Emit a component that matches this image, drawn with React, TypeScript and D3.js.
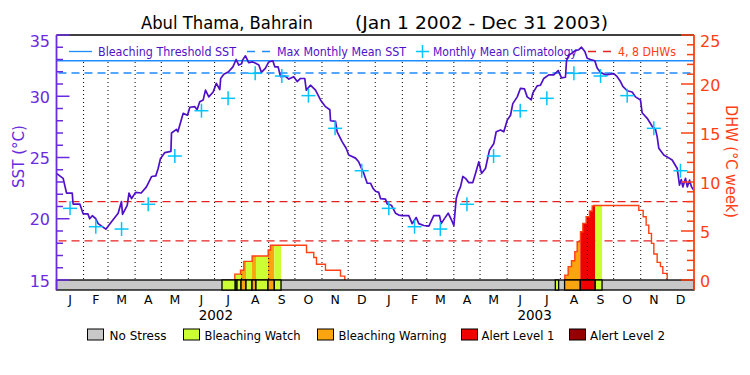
import React from "react";
import * as d3 from "d3";

// ---- Data (day offsets from Jan 1 2002) ----
const sstSeries: [number, number][] = [
  [0, 23.7], [7.6, 23.3], [11.5, 22.1], [18, 22.1], [19, 21.2], [26.7, 21.2], [30.5, 20.4], [36, 20.4],
  [38, 20.0], [41, 20.25], [45, 20.0], [47.7, 19.6], [56.5, 19.15], [63, 19.75], [70.6, 20.45], [74.4, 21.4],
  [75.6, 20.35], [81, 21.1], [83, 22.1], [86, 21.65], [90.5, 22.15], [97, 22.1], [103, 22.6], [109, 23.45],
  [113.7, 23.5], [116.4, 24.1], [119, 24.9], [124, 25.4], [131, 25.5], [131.7, 27.0], [137.4, 27.3], [139, 27.1],
  [145, 28.6], [150, 28.45], [152.7, 29.1], [158.4, 29.15], [161, 28.9], [164, 29.55], [168, 29.7], [170.6, 30.5],
  [174.4, 29.95], [179.4, 30.35], [183, 31.05], [187, 30.55], [188, 31.45], [191.6, 31.8], [197, 32.0], [202, 32.4],
  [205.7, 33.0], [208.7, 32.55], [212, 32.65], [213, 32.95], [216.4, 33.3], [220, 32.75], [224.8, 32.8], [228, 32.7],
  [231.7, 32.55], [234.7, 31.95], [239.3, 32.3], [243, 32.8], [247.7, 32.9], [250, 32.4], [253.8, 32.4], [256.5, 31.6],
  [262, 31.65], [266, 31.4], [271.7, 31.6], [275.6, 31.2], [279.4, 31.45], [284.3, 31.45], [286, 30.5], [290.8, 30.9],
  [296.6, 30.5], [302.3, 29.7], [308, 29.15], [313, 28.9], [313.8, 28.0], [319.5, 27.95], [321.4, 27.1], [327, 26.3],
  [331.7, 25.75], [334.7, 25.2], [342.4, 24.95], [346, 24.65], [351.9, 23.7], [355.8, 22.9], [359.6, 22.9], [362.3, 22.5],
  [365.3, 22.25], [369, 22.15], [371, 21.65], [376.7, 21.6], [378.7, 21.2], [383.6, 21.1], [388.2, 20.45], [392, 20.3],
  [395.8, 20.25], [403.4, 20.25], [407.3, 19.6], [411.9, 20.1], [414.9, 19.6], [420.6, 19.45], [426.4, 19.4], [432, 20.25],
  [438.6, 20.25], [440.5, 19.6], [444.6, 20.05], [448.5, 20.45], [452.3, 19.9], [455, 19.45], [457.7, 21.65], [460, 22.2],
  [462.6, 22.6], [465.3, 23.45], [468.3, 23.3], [472.1, 22.95], [476.7, 22.95], [479.8, 23.7], [483.6, 24.65], [486.7, 23.7],
  [491.2, 24.1], [495.8, 25.6], [500.8, 26.15], [503.5, 27.1], [508.4, 27.25], [512.2, 27.1], [516.1, 28.05], [519.9, 28.45],
  [522.5, 29.4], [527.6, 29.95], [531.3, 30.65], [535.9, 30.6], [539, 29.95], [543.6, 29.7], [545.4, 30.25], [550.4, 30.85],
  [554.2, 30.9], [558, 31.45], [563.7, 31.75], [569.4, 31.75], [574.5, 32.1], [578.3, 31.5], [582.8, 31.55], [584, 32.9],
  [586.6, 33.35], [589.7, 33.5], [593.5, 33.7], [598.1, 33.8], [601.2, 34.0], [605, 33.65], [607.7, 33.1], [611.5, 33.0],
  [616.4, 32.9], [619.1, 32.3], [622.9, 31.95], [628.6, 31.75], [634.4, 31.8], [638.2, 31.85], [642, 31.6], [645.8, 31.2],
  [648.5, 30.8], [653.5, 30.45], [659.2, 30.35], [663, 29.95], [668.7, 29.7], [670.6, 28.65], [676.4, 28.2], [682.1, 27.55],
  [685.9, 27.3], [687.8, 26.7], [689.7, 25.75], [695.4, 25.2], [699.3, 25.05], [705, 24.8], [710.8, 24.1], [713.4, 22.75],
  [715.4, 23.2], [717.2, 22.6], [720.3, 23.3], [722.3, 22.6], [724.9, 23.15], [727.2, 22.6], [730, 22.3],
];

const climatology = [20.85, 19.35, 19.16, 21.18, 25.12, 28.82, 29.83, 31.87, 31.65, 30.05, 27.38, 23.92];

const mmm = 31.9;
const bleachingThreshold = 32.9;
const dhwLevels = [4, 8];

const dhw2002: [number, number][] = [
  [204.2, 0], [204.2, 0.6], [210.7, 1.0], [214.5, 1.9], [224, 2.45], [242.4, 3.06], [245, 3.54],
  [286.3, 2.8], [294.6, 2.3], [297.7, 1.6], [308, 1.0], [325.2, 0.4], [330.1, 0],
];
const dhw2003: [number, number][] = [
  [582.1, 0], [582.1, 0.5], [585.9, 1.36], [589.7, 1.97], [593.5, 2.9], [596.2, 3.9], [600, 4.93],
  [602.7, 5.78], [606.5, 6.46], [610.3, 7.04], [613.4, 7.55], [615.3, 7.6], [666.8, 7.1], [671.8, 6.46],
  [675.2, 5.6], [678.2, 4.76], [681.3, 3.74], [684, 2.65], [687.8, 1.8], [691.6, 1.36], [694.3, 0.68], [699.3, 0],
];

// stress periods: [startDay, endDay, level]
const stressPeriods: [number, number, number][] = [
  [189.5, 204.7, 1], [204.7, 206.7, 1], [206.7, 211.3, 1], [211.3, 217, 2], [217, 223.9, 1],
  [223.9, 228.4, 2], [228.4, 242.2, 1], [242.2, 249.4, 2], [249.4, 257.1, 1],
  [571.2, 575, 1], [581.8, 599.8, 2], [599.8, 616.9, 3], [616.9, 624.7, 1],
];

const stressNames = ["No Stress", "Bleaching Watch", "Bleaching Warning", "Alert Level 1", "Alert Level 2"];
const stressColors = ["#c8c8c8", "#ccff33", "#faa50f", "#f00000", "#960000"];

const sstTicks = [15, 20, 25, 30, 35];
const dhwTicks = [0, 5, 10, 15, 20, 25];
const monthLetters = ["J", "F", "M", "A", "M", "J", "J", "A", "S", "O", "N", "D"];
const yearLabels = ["2002", "2003"];

// ---- layout ----
const W = 750, H = 375;
const X0 = 56.5, X1 = 694, YT = 35, YB = 280, YBAR = 290;
const FONT = "'DejaVu Sans', sans-serif";
const PURPLE = "#5010c8";
const AXP = "#6a2be0";
const ORANGE = "#ff4014";
const BLUE = "#1e8cff";
const CYAN = "#00c4ff";
const RED = "#e82020";

const base = Date.UTC(2002, 0, 1);
const toDate = (d: number) => new Date(base + d * 864e5);

export default function App() {
  const x = d3.scaleUtc().domain([new Date(base), new Date(Date.UTC(2004, 0, 1))]).range([X0, X1]);
  const ySST = d3.scaleLinear().domain([15, 35]).range([YB, YT]);
  const yDHW = d3.scaleLinear().domain([0, 25]).range([YB, YT]);

  const months = d3.utcMonth.range(new Date(base), new Date(Date.UTC(2004, 0, 1)));
  const monthMid = (m: Date) => (x(m) + x(d3.utcMonth.offset(m, 1))) / 2;

  const sstLine = d3.line<[number, number]>().x(d => x(toDate(d[0]))).y(d => ySST(d[1]))(sstSeries) || "";
  const dhwLine = d3.line<[number, number]>().curve(d3.curveStepAfter).x(d => x(toDate(d[0]))).y(d => yDHW(d[1]));
  const dhwArea = d3.area<[number, number]>().curve(d3.curveStepAfter).x(d => x(toDate(d[0]))).y0(YB).y1(d => yDHW(d[1]));

  const dhwAll = [...dhw2002, ...dhw2003];
  const dhwAt = (day: number) => {
    let v = 0;
    for (const p of dhwAll) if (p[0] <= day) v = p[1];
    return v;
  };
  const fillPts = (d0: number, d1: number): [number, number][] => {
    const pts: [number, number][] = [[d0, dhwAt(d0)]];
    for (const p of dhwAll) if (p[0] > d0 && p[0] < d1) pts.push(p);
    pts.push([d1, dhwAt(d1)]);
    return pts;
  };

  const sstMinor = d3.range(15, 36, 1);
  const dhwMinor = d3.range(0, 26, 1);

  const legendY = 51.5;
  const botY = 334.5;
  const botItems = [
    { bx: 87.5, tx: 109.5, len: 57 },
    { bx: 183.5, tx: 204.5, len: 96 },
    { bx: 317.5, tx: 338.5, len: 108 },
    { bx: 461.5, tx: 481.5, len: 73 },
    { bx: 569.5, tx: 590, len: 75 },
  ];

  return (
    <svg width={W} height={H} style={{ position: "fixed", left: 0, top: 0, background: "#fff" }} fontFamily={FONT}>
      <rect x={0} y={0} width={W} height={H} fill="#fff" />
      {/* title */}
      <text x={141} y={29} fontSize={18} textLength={172} lengthAdjust="spacingAndGlyphs" fill="#000">Abul Thama, Bahrain</text>
      <text x={355} y={29} fontSize={18} textLength={253} lengthAdjust="spacingAndGlyphs" fill="#000">(Jan 1 2002 - Dec 31 2003)</text>

      {/* threshold lines */}
      <line x1={X0} x2={X1} y1={ySST(bleachingThreshold)} y2={ySST(bleachingThreshold)} stroke={BLUE} strokeWidth={1.3} />
      <line x1={X0 + 2} x2={X1} y1={ySST(mmm)} y2={ySST(mmm)} stroke={BLUE} strokeWidth={1.3} strokeDasharray="8,5" />
      {dhwLevels.map(l => (
        <line key={l} x1={X0 + 2} x2={X1} y1={yDHW(l)} y2={yDHW(l)} stroke={RED} strokeWidth={1.3} strokeDasharray="8,5" />
      ))}

      {/* stress fills under DHW */}
      {stressPeriods.map((s, i) => (
        <path key={i} d={dhwArea(fillPts(s[0], s[1])) || ""} fill={stressColors[s[2]]} />
      ))}

      {/* month dotted lines */}
      {months.slice(1).map((m, i) => (
        <line key={i} x1={x(m)} x2={x(m)} y1={62} y2={YB} stroke="#000" strokeWidth={1} strokeDasharray="1,3" />
      ))}

      {/* DHW lines */}
      <path d={dhwLine(dhw2002) || ""} fill="none" stroke={ORANGE} strokeWidth={1.4} />
      <path d={dhwLine(dhw2003) || ""} fill="none" stroke={ORANGE} strokeWidth={1.4} />

      {/* stress bar */}
      <rect x={X0} y={YB} width={X1 - X0} height={YBAR - YB} fill={stressColors[0]} stroke="#000" strokeWidth={1.3} />
      {stressPeriods.map((s, i) => (
        <rect key={i} x={x(toDate(s[0]))} y={YB} width={x(toDate(s[1])) - x(toDate(s[0]))} height={YBAR - YB}
          fill={stressColors[s[2]]} stroke="#000" strokeWidth={1.3} />
      ))}

      {/* SST line */}
      <path d={sstLine} fill="none" stroke={PURPLE} strokeWidth={1.7} strokeLinejoin="round" />

      {/* climatology crosses */}
      {months.map((m, i) => {
        const cx = monthMid(m);
        const cy = ySST(climatology[m.getUTCMonth()]);
        return (
          <g key={i} stroke={CYAN} strokeWidth={1.5}>
            <line x1={cx - 7} x2={cx + 7} y1={cy} y2={cy} />
            <line x1={cx} x2={cx} y1={cy - 7} y2={cy + 7} />
          </g>
        );
      })}

      {/* frame top */}
      <line x1={X0} x2={X1} y1={YT} y2={YT} stroke="#000" strokeWidth={1.5} />

      {/* left axis */}
      <line x1={X0} x2={X0} y1={YT} y2={YBAR} stroke={AXP} strokeWidth={1.8} />
      {sstMinor.map(v => (
        <line key={v} x1={X0} x2={X0 + (v % 5 === 0 ? 13 : 6.5)} y1={ySST(v)} y2={ySST(v)} stroke={AXP} strokeWidth={1.5} />
      ))}
      {sstTicks.map(v => (
        <text key={v} x={50} y={v === 35 ? ySST(v) + 6 : ySST(v) + 1} fontSize={16} fill={AXP} textAnchor="end" dominantBaseline="central">{v}</text>
      ))}
      <text transform="translate(18,156.5) rotate(-90)" fontSize={16} fill={AXP} textAnchor="middle" dominantBaseline="central"
        textLength={63} lengthAdjust="spacingAndGlyphs">SST (°C)</text>

      {/* right axis */}
      <line x1={X1} x2={X1} y1={YT} y2={YBAR} stroke={ORANGE} strokeWidth={1.8} />
      {dhwMinor.map(v => (
        <line key={v} x1={X1 - (v % 5 === 0 ? 13 : 7)} x2={X1} y1={yDHW(v)} y2={yDHW(v)} stroke={ORANGE} strokeWidth={1.5} />
      ))}
      {dhwTicks.map(v => (
        <text key={v} x={700} y={v === 25 ? yDHW(v) + 6 : yDHW(v) + 1} fontSize={16} fill={ORANGE} textAnchor="start" dominantBaseline="central">{v}</text>
      ))}
      <text transform="translate(731,161.5) rotate(90)" fontSize={16} fill={ORANGE} textAnchor="middle" dominantBaseline="central"
        textLength={113} lengthAdjust="spacingAndGlyphs">DHW (°C week)</text>

      {/* month labels */}
      {months.map((m, i) => (
        <text key={i} x={monthMid(m)} y={304} fontSize={12.5} fill="#000" textAnchor="middle">{monthLetters[m.getUTCMonth()]}</text>
      ))}
      {yearLabels.map((yl, i) => {
        const s = new Date(Date.UTC(2002 + i, 0, 1));
        const e = new Date(Date.UTC(2003 + i, 0, 1));
        return (
          <text key={yl} x={(x(s) + x(e)) / 2} y={320} fontSize={13.5} fill="#000" textAnchor="middle">{yl}</text>
        );
      })}

      {/* top legend */}
      <line x1={69} x2={92} y1={legendY} y2={legendY} stroke={BLUE} strokeWidth={1.3} />
      <text x={98} y={55.5} fontSize={12.5} fill={PURPLE} textLength={138} lengthAdjust="spacingAndGlyphs">Bleaching Threshold SST</text>
      <line x1={247} x2={270} y1={legendY} y2={legendY} stroke={BLUE} strokeWidth={1.3} strokeDasharray="8,7" />
      <text x={277} y={55.5} fontSize={12.5} fill={PURPLE} textLength={129} lengthAdjust="spacingAndGlyphs">Max Monthly Mean SST</text>
      <g stroke={CYAN} strokeWidth={1.5}>
        <line x1={416} x2={429} y1={legendY} y2={legendY} />
        <line x1={422.5} x2={422.5} y1={legendY - 6.5} y2={legendY + 6.5} />
      </g>
      <text x={433} y={55.5} fontSize={12.5} fill={PURPLE} textLength={144} lengthAdjust="spacingAndGlyphs">Monthly Mean Climatology</text>
      <line x1={588} x2={612} y1={legendY} y2={legendY} stroke={RED} strokeWidth={1.3} strokeDasharray="8,7" />
      <text x={618} y={55.5} fontSize={12.5} fill={ORANGE} textLength={58} lengthAdjust="spacingAndGlyphs">4, 8 DHWs</text>

      {/* bottom legend */}
      {botItems.map((it, i) => (
        <g key={i}>
          <rect x={it.bx} y={329} width={16} height={11} fill={stressColors[i]} stroke="#000" strokeWidth={1} />
          <text x={it.tx} y={botY + 5.5} fontSize={12.5} fill="#000" textLength={it.len} lengthAdjust="spacingAndGlyphs">{stressNames[i]}</text>
        </g>
      ))}
    </svg>
  );
}
